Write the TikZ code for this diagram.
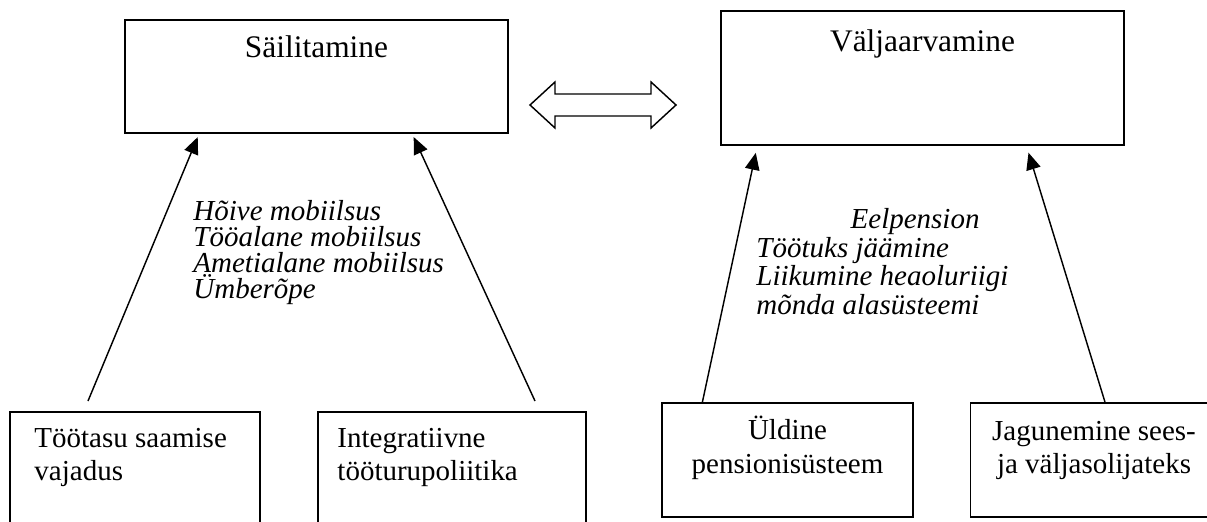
\documentclass[tikz,border=0pt]{standalone}
\usepackage{fontspec}
\setmainfont{Liberation Serif}
\usepackage{tikz}
\usetikzlibrary{arrows.meta}
\tikzset{
  bx/.style={draw,line width=0.6pt,inner sep=0pt},
  hd/.style={inner sep=0pt,font=\fontsize{13}{15}\selectfont},
  tx/.style={inner sep=0pt,font=\fontsize{12}{13.7}\selectfont},
  it/.style={inner sep=0pt,align=left,font=\fontsize{12}{10.8}\selectfont\itshape},
  up/.style={line width=0.6pt,-{Triangle[length=7pt,width=6pt]}},
  dbl/.style={line width=0.6pt,line join=miter}
}

\begin{document}
\begin{tikzpicture}[x=0.414pt,y=-0.414pt]
\useasboundingbox (0,0) rectangle (1207,521);
\clip (0,0) rectangle (1207,521);
\node[bx,minimum width=158.6pt,minimum height=46.8pt] (sail) at (316.5,76.5) {}; \node[hd,anchor=base] (sailt) at (316.5,57) {Säilitamine};
\node[bx,minimum width=166.8pt,minimum height=55.5pt] (valj) at (922.5,78) {}; \node[hd,anchor=base] (valjt) at (922.5,51) {Väljaarvamine};
\draw[dbl] (530,105) -- (555,82) -- (555,94) -- (651,94) -- (651,82) -- (676,105) -- (651,128) -- (651,116) -- (555,116) -- (555,128) -- cycle;
\node[bx,minimum width=103.5pt,minimum height=77.8pt] (toot) at (135,506) {};
\node[tx,align=left,anchor=north west] (toott) at (34,428) {Töötasu saamise\\vajadus};
\node[bx,minimum width=111pt,minimum height=77.8pt] (intg) at (452,506) {};
\node[tx,align=left,anchor=north west] (intgt) at (337,428) {Integratiivne\\tööturupoliitika};
\node[bx,minimum width=103.9pt,minimum height=47.2pt] (ulds) at (787.5,460) {};
\node[tx,align=center,anchor=north] (uldst) at (787.5,416) {Üldine\\pensionisüsteem};
\node[bx,minimum width=112pt,minimum height=47.2pt] (jagu) at (1106,460) {};
\node[tx,align=center,anchor=north] (jagut) at (1094,421) {Jagunemine sees-\\ja väljasolijateks};
\coordinate (c1) at (88,401); \coordinate (c2) at (535,401);
\draw[up,shorten >=1.5pt] (c1) -- ([xshift=31pt]sail.south west);
\draw[up,shorten >=1.5pt] (c2) -- ([xshift=119.2pt]sail.south west);
\draw[up,shorten >=3pt] ([xshift=17pt]ulds.north west) -- ([xshift=15.3pt]valj.south west);
\draw[up,shorten >=3pt] ([xshift=55.9pt]jagu.north west) -- ([xshift=126.7pt]valj.south west);
\node[it,anchor=north west] (mob) at (193,200) {Hõive mobiilsus\\Tööalane mobiilsus\\Ametialane mobiilsus\\Ümberõpe};
\node[it,anchor=north west] (pen) at (756,208) {\hspace*{39pt}Eelpension\\Töötuks jäämine\\Liikumine heaoluriigi\\mõnda alasüsteemi};
\end{tikzpicture}
\end{document}
